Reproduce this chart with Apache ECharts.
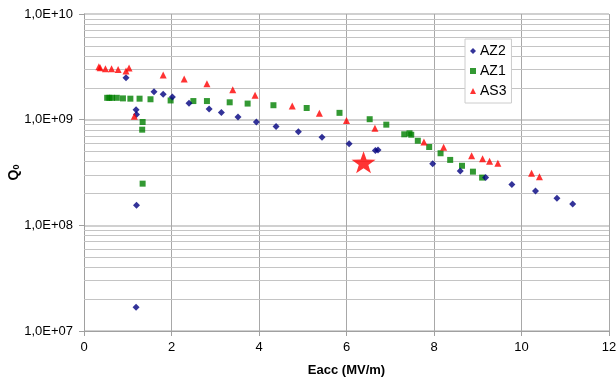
<!DOCTYPE html>
<html><head><meta charset="utf-8">
<script src="https://cdn.jsdelivr.net/npm/echarts@6/dist/echarts.min.js"></script>
<style>html,body{margin:0;padding:0;background:#fff}#c{width:616px;height:379px}</style>
</head><body><div id="c"></div>
<script>
// Data (Eacc in MV/m, Q0)
const az2X = [0.96,1.19,1.20,1.20,1.19,1.60,1.81,2.02,2.40,2.86,3.14,3.52,3.94,4.39,4.90,5.44,6.06,6.66,6.72,7.97,8.60,9.18,9.78,10.32,10.81,11.17];
const az2Y = [2.49e9,1.24e9,1.12e9,1.55e8,1.68e7,1.84e9,1.74e9,1.64e9,1.43e9,1.26e9,1.17e9,1.06e9,9.5e8,8.6e8,7.7e8,6.8e8,5.93e8,5.1e8,5.15e8,3.83e8,3.27e8,2.83e8,2.43e8,2.11e8,1.80e8,1.59e8];
const az1X = [0.53,0.58,0.64,0.75,0.89,1.06,1.27,1.34,1.33,1.34,1.52,1.98,2.50,2.81,3.33,3.74,4.33,5.09,5.84,6.53,6.91,7.32,7.44,7.48,7.63,7.89,8.15,8.37,8.64,8.89,9.10];
const az1Y = [1.61e9,1.61e9,1.61e9,1.61e9,1.59e9,1.58e9,1.58e9,9.5e8,8.04e8,2.48e8,1.56e9,1.52e9,1.50e9,1.50e9,1.46e9,1.42e9,1.37e9,1.29e9,1.16e9,1.01e9,8.97e8,7.27e8,7.43e8,7.2e8,6.32e8,5.51e8,4.81e8,4.16e8,3.66e8,3.22e8,2.83e8];
const as3X = [0.34,0.37,0.49,0.63,0.78,0.96,1.03,1.15,1.81,2.29,2.81,3.40,3.91,4.76,5.38,6.00,6.65,7.77,8.22,8.86,9.11,9.27,9.46,10.23,10.41];
const as3Y = [3.17e9,3.10e9,3.03e9,3.03e9,2.99e9,2.89e9,3.08e9,1.08e9,2.65e9,2.43e9,2.19e9,1.92e9,1.70e9,1.35e9,1.15e9,9.8e8,8.3e8,6.15e8,5.47e8,4.56e8,4.27e8,4.04e8,3.86e8,3.11e8,2.89e8];
const starX = [6.39];
const starY = [3.95e8];
const xTicks = [0,2,4,6,8,10,12];
const yDecades = [7,8,9,10];

const zip = (a,b) => a.map((v,i)=>[v,b[i]]);
const minorVals = [];
for (let d = yDecades[0]; d < yDecades[yDecades.length-1]; d++) {
  for (let m = 2; m <= 9; m++) minorVals.push(m * Math.pow(10, d));
}
const font = 'Liberation Sans, Arial, sans-serif';
const chart = echarts.init(document.getElementById('c'), null, {renderer:'canvas'});
chart.setOption({
  animation: false,
  backgroundColor: '#fff',
  textStyle: {fontFamily: font},
  grid: {left: 84, right: 7, top: 14, bottom: 48, containLabel: false, outerBoundsMode: 'none'},
  legend: {
    orient: 'vertical', left: 465, top: 39,
    data: ['AZ2','AZ1','AS3'],
    itemWidth: 6, itemHeight: 6, itemGap: 6,
    padding: [5, 5, 5, 5],
    borderColor: '#cccccc', borderWidth: 1, backgroundColor: '#fff',
    textStyle: {fontSize: 14, color: '#000', fontFamily: font, lineHeight: 14, padding: [0,0,0,-1]}
  },
  xAxis: {
    type: 'value', min: xTicks[0], max: xTicks[xTicks.length-1], interval: 2,
    name: 'Eacc (MV/m)', nameLocation: 'middle', nameGap: 33, nameMoveOverlap: false,
    nameTextStyle: {fontWeight: 'bold', fontSize: 13, color: '#000', fontFamily: font},
    axisLine: {show: true, lineStyle: {color: '#a0a0a0'}},
    axisTick: {show: true, length: 5, lineStyle: {color: '#a0a0a0'}},
    axisLabel: {fontSize: 13, color: '#000', margin: 10, fontFamily: font},
    splitLine: {show: true, lineStyle: {color: '#a8a8a8', width: 1}}
  },
  yAxis: {
    type: 'log', logBase: 10, min: Math.pow(10, yDecades[0]), max: Math.pow(10, yDecades[yDecades.length-1]),
    name: '{q|Q}{s|0}', nameLocation: 'middle', nameGap: 63, nameMoveOverlap: false,
    nameTextStyle: {fontWeight: 'bold', fontSize: 13, color: '#000', fontFamily: font,
      rich: {q: {fontWeight: 'bold', fontSize: 14, fontFamily: font, verticalAlign: 'bottom', lineHeight: 16},
             s: {fontWeight: 'bold', fontSize: 9, fontFamily: font, verticalAlign: 'bottom', lineHeight: 12}}},
    axisLine: {show: true, lineStyle: {color: '#a0a0a0'}},
    axisTick: {show: true, length: 5, lineStyle: {color: '#a0a0a0'}},
    axisLabel: {fontSize: 13, color: '#000', margin: 11, fontFamily: font,
      formatter: v => { const e = Math.round(Math.log10(v)); return '1,0E+' + (e < 10 ? '0' : '') + e; }},
    splitLine: {show: true, lineStyle: {color: '#c0c0c0', width: 1.5}}
  },
  series: [
    {name: 'minorgrid', type: 'scatter', data: [], z: 1, silent: true,
     markLine: {silent: true, symbol: 'none', label: {show: false}, animation: false, z: 1,
       lineStyle: {color: '#c4c4c4', width: 1, type: 'solid'},
       data: minorVals.map(v => ({yAxis: v}))}},
    {name: 'AZ2', type: 'scatter', data: zip(az2X, az2Y), symbol: 'diamond', symbolSize: 7,
     itemStyle: {color: '#000080'}, z: 4},
    {name: 'AZ1', type: 'scatter', data: zip(az1X, az1Y), symbol: 'rect', symbolSize: 6,
     itemStyle: {color: '#008000'}, z: 3},
    {name: 'AS3', type: 'scatter', data: zip(as3X, as3Y), symbol: 'triangle', symbolSize: 7,
     itemStyle: {color: '#ff0000'}, z: 5},
    {name: 'star', type: 'scatter', data: zip(starX, starY),
     symbol: 'path://M0,-10 L2.35,-3.24 9.51,-3.09 3.8,1.24 5.88,8.09 0,4 -5.88,8.09 -3.8,1.24 -9.51,-3.09 -2.35,-3.24Z',
     symbolSize: [24, 22], itemStyle: {color: '#ff0000'}, z: 6}
  ]
});
</script></body></html>
